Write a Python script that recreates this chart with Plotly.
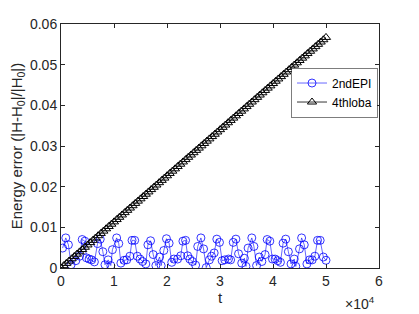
import plotly.graph_objects as go

# 2ndEPI series (t in units of 1e4)
t_epi = [0.03, 0.09, 0.14, 0.19, 0.28, 0.35, 0.40, 0.45, 0.48, 0.53, 0.58, 0.63, 0.69, 0.74,
         0.79, 0.83, 0.89, 0.94, 0.97, 1.05, 1.09, 1.13, 1.19, 1.24, 1.30, 1.34, 1.39, 1.44,
         1.49, 1.54, 1.60, 1.64, 1.69, 1.74, 1.79, 1.86, 1.89, 1.94, 1.99, 2.04, 2.09, 2.13,
         2.20, 2.26, 2.30, 2.35, 2.39, 2.43, 2.48, 2.54, 2.58, 2.64, 2.69, 2.74, 2.80, 2.84,
         2.89, 2.94, 2.99, 3.04, 3.09, 3.16, 3.20, 3.25, 3.30, 3.35, 3.41, 3.46, 3.49, 3.53,
         3.60, 3.64, 3.69, 3.74, 3.79, 3.85, 3.89, 3.94, 3.99, 4.04, 4.09, 4.14, 4.19, 4.24,
         4.29, 4.34, 4.40, 4.43, 4.50, 4.54, 4.59, 4.64, 4.69, 4.74, 4.79, 4.84, 4.89, 4.95,
         5.00]
v_epi = [0.0049, 0.0074, 0.0057, 0.0008, 0.0018, 0.0029, 0.0070, 0.0066, 0.0025, 0.0022,
         0.0020, 0.0015, 0.0060, 0.0071, 0.0040, 0.0008, 0.0020, 0.0006, 0.0045, 0.0074,
         0.0060, 0.0012, 0.0019, 0.0020, 0.0029, 0.0068, 0.0068, 0.0029, 0.0022, 0.0016,
         0.0010, 0.0057, 0.0067, 0.0033, 0.0006, 0.0027, 0.0006, 0.0043, 0.0072, 0.0061,
         0.0014, 0.0022, 0.0022, 0.0030, 0.0066, 0.0068, 0.0030, 0.0022, 0.0016, 0.0007,
         0.0053, 0.0074, 0.0047, 0.0001, 0.0020, 0.0029, 0.0037, 0.0071, 0.0063, 0.0018,
         0.0020, 0.0022, 0.0020, 0.0063, 0.0071, 0.0035, 0.0012, 0.0024, 0.0004, 0.0049,
         0.0074, 0.0053, 0.0006, 0.0027, 0.0016, 0.0033, 0.0070, 0.0066, 0.0022, 0.0022,
         0.0018, 0.0014, 0.0061, 0.0071, 0.0040, 0.0010, 0.0022, 0.0004, 0.0047, 0.0074,
         0.0057, 0.0010, 0.0020, 0.0020, 0.0029, 0.0068, 0.0068, 0.0027, 0.0019]

# 4thloba series
t_loba = [0.00, 0.05, 0.10, 0.15, 0.20, 0.25, 0.30, 0.35, 0.40, 0.45, 0.50, 0.55, 0.60, 0.65,
          0.70, 0.75, 0.80, 0.85, 0.90, 0.95, 1.00, 1.05, 1.10, 1.15, 1.20, 1.25, 1.30, 1.35,
          1.40, 1.45, 1.50, 1.55, 1.60, 1.65, 1.70, 1.75, 1.80, 1.85, 1.90, 1.95, 2.00, 2.05,
          2.10, 2.15, 2.20, 2.25, 2.30, 2.35, 2.40, 2.45, 2.50, 2.55, 2.60, 2.65, 2.70, 2.75,
          2.80, 2.85, 2.90, 2.95, 3.00, 3.05, 3.10, 3.15, 3.20, 3.25, 3.30, 3.35, 3.40, 3.45,
          3.50, 3.55, 3.60, 3.65, 3.70, 3.75, 3.80, 3.85, 3.90, 3.95, 4.00, 4.05, 4.10, 4.15,
          4.20, 4.25, 4.30, 4.35, 4.40, 4.45, 4.50, 4.55, 4.60, 4.65, 4.70, 4.75, 4.80, 4.85,
          4.90, 4.95, 5.00]
v_loba = [0, 0.00057, 0.00113, 0.0017, 0.00227, 0.00284, 0.0034, 0.00397, 0.00454, 0.0051, 0.00567,
          0.00624, 0.0068, 0.00737, 0.00794, 0.0085, 0.00907, 0.00964, 0.01021, 0.01077, 0.01134,
          0.01191, 0.01247, 0.01304, 0.01361, 0.01418, 0.01474, 0.01531, 0.01588, 0.01644, 0.01701,
          0.01758, 0.01814, 0.01871, 0.01928, 0.01985, 0.02041, 0.02098, 0.02155, 0.02211, 0.02268,
          0.02325, 0.02381, 0.02438, 0.02495, 0.02552, 0.02608, 0.02665, 0.02722, 0.02778, 0.02835,
          0.02892, 0.02948, 0.03005, 0.03062, 0.03119, 0.03175, 0.03232, 0.03289, 0.03345, 0.03402,
          0.03459, 0.03515, 0.03572, 0.03629, 0.03686, 0.03742, 0.03799, 0.03856, 0.03912, 0.03969,
          0.04026, 0.04082, 0.04139, 0.04196, 0.04253, 0.04309, 0.04366, 0.04423, 0.04479, 0.04536,
          0.04593, 0.04649, 0.04706, 0.04763, 0.0482, 0.04876, 0.04933, 0.0499, 0.05046, 0.05103,
          0.0516, 0.05216, 0.05273, 0.0533, 0.05387, 0.05443, 0.055, 0.05557, 0.05613, 0.0567]

x_ticks = [0, 1, 2, 3, 4, 5, 6]
y_ticks = [0, 0.01, 0.02, 0.03, 0.04, 0.05, 0.06]
y_tick_labels = ["0", "0.01", "0.02", "0.03", "0.04", "0.05", "0.06"]

FONT = "Liberation Sans, Arial, sans-serif"
AX = "#262626"

fig = go.Figure()
fig.add_trace(go.Scatter(
    x=t_epi, y=v_epi, mode="lines+markers", name="2ndEPI",
    line=dict(color="#0000ff", width=0.6),
    marker=dict(symbol="circle-open", size=8, color="#0000ff", line=dict(width=0.8)),
))
fig.add_trace(go.Scatter(
    x=t_loba, y=v_loba, mode="lines+markers", name="4thloba",
    line=dict(color="#000000", width=0.8),
    marker=dict(symbol="triangle-up-open", size=8, color="#000000", line=dict(width=1)),
))

axis_common = dict(
    showline=True, linecolor=AX, linewidth=1, mirror="ticks",
    ticks="inside", ticklen=4, tickcolor=AX, showgrid=False, zeroline=False,
    tickfont=dict(family=FONT, size=14, color=AX), automargin=False,
)
# page body has an 8px default margin; the figure is sized to compensate
fig.update_layout(
    width=411, height=306,
    margin=dict(l=53, r=40, t=16, b=46),
    paper_bgcolor="white", plot_bgcolor="white",
    font=dict(family=FONT, color=AX),
    showlegend=True,
    legend=dict(
        x=0.995, y=0.82, xanchor="right", yanchor="top",
        bordercolor=AX, borderwidth=0.6, bgcolor="white",
        font=dict(family=FONT, size=12, color="#000"),
        itemwidth=30, tracegroupgap=0,
    ),
    xaxis=dict(range=[0, 6], tickvals=x_ticks, ticktext=[str(v) for v in x_ticks],
               title=dict(text="t", font=dict(family=FONT, size=15, color=AX), standoff=2),
               **axis_common),
    yaxis=dict(range=[0, 0.06], tickvals=y_ticks, ticktext=y_tick_labels,
               title=dict(text="Energy error (|H-H<sub>0</sub>|/|H<sub>0</sub>|)",
                          font=dict(family=FONT, size=15, color=AX), standoff=4),
               **axis_common),
    annotations=[dict(
        text="×10<sup>4</sup>", xref="paper", yref="paper", x=0.995, y=-0.145,
        xanchor="right", yanchor="middle", showarrow=False,
        font=dict(family=FONT, size=14, color=AX),
    )],
)

fig.write_html("out.html")
